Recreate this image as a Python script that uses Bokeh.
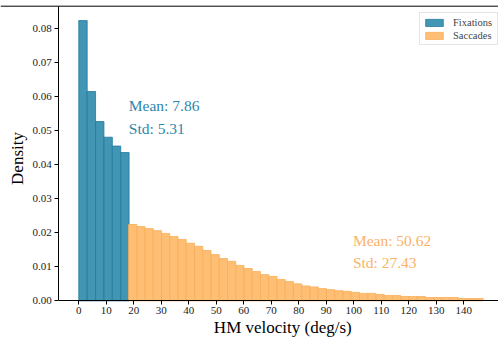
import math
from bokeh.plotting import figure
from bokeh.models import FixedTicker, NumeralTickFormatter, Span, Legend, LegendItem, Range1d
from bokeh.core.properties import value
from bokeh.embed import file_html
from bokeh.resources import INLINE

# ---- data ----
fix_edges = [0.0, 3.05, 6.1, 9.15, 12.2, 15.25, 18.3]
fix_density = [0.0822, 0.0614, 0.0526, 0.0480, 0.0454, 0.0435]

sacc_start = 18.1
sacc_bin = 3.0
sacc_density = [0.0224, 0.0218, 0.0212, 0.0206, 0.0198, 0.0189, 0.0180, 0.0169,
                0.0160, 0.0148, 0.0136, 0.0124, 0.0116, 0.0104, 0.0095, 0.0086,
                0.0077, 0.0072, 0.0063, 0.0057, 0.0050, 0.0044, 0.0041, 0.0036,
                0.0033, 0.0030, 0.0028, 0.0025, 0.0022, 0.0022, 0.0019, 0.0016,
                0.0016, 0.0013, 0.0013, 0.0013, 0.0010, 0.0010, 0.0010, 0.0010,
                0.0007, 0.0007, 0.0007]

fix_mean, fix_std = 7.86, 5.31
sacc_mean, sacc_std = 50.62, 27.43

x_ticks = list(range(0, 150, 10))
y_ticks = [0.00, 0.01, 0.02, 0.03, 0.04, 0.05, 0.06, 0.07, 0.08]
x_label = "HM velocity (deg/s)"
y_label = "Density"

FONT = "Liberation Serif"
BLUE_FILL = "#4296b4"
BLUE_EDGE = "#1f7aa0"
BLUE_TEXT = "#2e86ab"
ORANGE_FILL = "#febe73"
ORANGE_EDGE = "#f9ae5a"
ORANGE_TEXT = "#fbb266"

fix_left = fix_edges[:-1]
fix_right = fix_edges[1:]
sacc_left = [sacc_start + i * sacc_bin for i in range(len(sacc_density))]
sacc_right = [l + sacc_bin for l in sacc_left]

# whole canvas is the plotting frame; axes sit at fixed data locations
AX_LEFT = -7.3           # where the left spine sits
X_START, X_END = -28.48, 152.67
Y_START, Y_END = -0.0122, 0.08809
Y_TOP_SPINE = 0.08642

p = figure(width=498, height=342, output_backend="svg", toolbar_location=None,
           x_range=Range1d(X_START, X_END), y_range=Range1d(Y_START, Y_END),
           min_border=0)
p.outline_line_color = None
p.grid.visible = False
p.background_fill_color = "white"

r_fix = p.quad(left=fix_left, right=fix_right, bottom=0, top=fix_density,
               fill_color=BLUE_FILL, line_color=BLUE_EDGE, line_width=0.8)
r_sac = p.quad(left=sacc_left, right=sacc_right, bottom=0, top=sacc_density,
               fill_color=ORANGE_FILL, line_color=ORANGE_EDGE, line_width=0.8)

# annotations
p.text(x=[18.2, 18.2], y=[0.0573, 0.0507],
       text=[f"Mean: {fix_mean:.2f}", f"Std: {fix_std:.2f}"],
       text_font=value(FONT), text_font_size="15.5px", text_color=BLUE_TEXT,
       text_baseline="alphabetic", text_align="left")
p.text(x=[99.7, 99.7], y=[0.0178, 0.0112],
       text=[f"Mean: {sacc_mean:.2f}", f"Std: {sacc_std:.2f}"],
       text_font=value(FONT), text_font_size="15.5px", text_color=ORANGE_TEXT,
       text_baseline="alphabetic", text_align="left")

# axis titles
p.text(x=[74.2], y=[-0.0078], text=[x_label], text_font=value(FONT),
       text_font_size="17px", text_color="black",
       text_align="center", text_baseline="alphabetic")
p.text(x=[-22.2], y=[0.04176], text=[y_label], text_font=value(FONT),
       text_font_size="17px", text_color="black", angle=math.pi / 2,
       text_align="center", text_baseline="alphabetic")

# top spine
p.add_layout(Span(location=Y_TOP_SPINE, dimension="width", line_color="black",
                  line_width=1))

# axes
for ax in (p.xaxis[0], p.yaxis[0]):
    ax.axis_line_color = "black"
    ax.axis_line_width = 1
    ax.major_tick_line_color = "black"
    ax.major_tick_in = 0
    ax.major_tick_out = 4
    ax.minor_tick_line_color = None
    ax.major_label_text_font = FONT
    ax.major_label_text_font_size = "11px"
    ax.major_label_text_color = "#222222"

p.xaxis.fixed_location = 0
p.yaxis.fixed_location = AX_LEFT
p.xaxis.bounds = (AX_LEFT, X_END)
p.yaxis.bounds = (0, Y_TOP_SPINE)
p.xaxis.ticker = FixedTicker(ticks=x_ticks)
p.yaxis.ticker = FixedTicker(ticks=y_ticks)
p.yaxis.formatter = NumeralTickFormatter(format="0.00")
p.xaxis.major_label_standoff = 2
p.yaxis.major_label_standoff = 3

legend = Legend(items=[LegendItem(label="Fixations", renderers=[r_fix]),
                       LegendItem(label="Saccades", renderers=[r_sac])],
                location=(419, 297))
legend.margin = 0
legend.padding = 3
legend.spacing = 1
legend.glyph_width = 22
legend.glyph_height = 9
legend.label_height = 12
legend.label_width = 41
legend.label_standoff = 8
legend.label_text_font = FONT
legend.label_text_font_size = "10.5px"
legend.border_line_color = "#cccccc"
legend.border_line_width = 1
legend.background_fill_alpha = 0.8
p.add_layout(legend)

open("out.html", "w").write(file_html(p, INLINE))
